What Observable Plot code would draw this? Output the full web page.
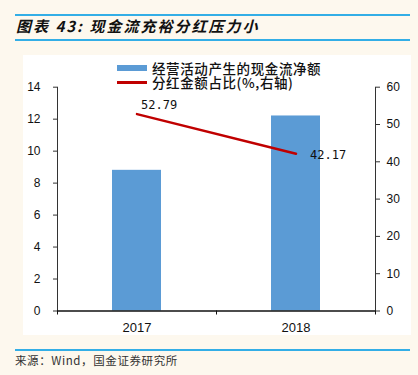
<!DOCTYPE html>
<html>
<head>
<meta charset="utf-8">
<script src="https://cdn.jsdelivr.net/npm/d3@7"></script>
<script src="https://cdn.jsdelivr.net/npm/@observablehq/plot@0.6"></script>
<style>
  html, body { margin: 0; padding: 0; }
  body { width: 418px; height: 375px; background: #fdf8ee; overflow: hidden; }
  #wrap { position: relative; width: 418px; height: 375px; background: #fdf8ee; font-family: "Noto Sans CJK SC", sans-serif; }
  .hl { position: absolute; left: 15px; width: 395px; background: #33aee6; }
  #title { position: absolute; left: 16px; top: 15px; font-size: 15px; font-weight: bold; font-style: italic; letter-spacing: 2px; color: #111; line-height: 22px; white-space: nowrap; }
  #panel { position: absolute; left: 23px; top: 55px; width: 388px; height: 280px; background: #fff; }
  #caption { position: absolute; left: 15px; top: 352px; font-size: 11.5px; color: #333; letter-spacing: 0.6px; line-height: 16px; white-space: nowrap; }
  #legend { position: absolute; left: 152px; top: 61px; font-size: 13.5px; letter-spacing: 0.6px; color: #111; line-height: 14px; white-space: nowrap; font-weight: 500; }
  .sw { position: absolute; }
</style>
</head>
<body>
<div id="wrap">
  <div class="hl" style="top:14px;height:1.5px"></div>
  <div id="title">图表 43: 现金流充裕分红压力小</div>
  <div class="hl" style="top:39px;height:2px"></div>
  <div id="panel"></div>
  <div class="sw" style="left:117px;top:65px;width:30px;height:6px;background:#5b9bd5"></div>
  <div class="sw" style="left:117px;top:81px;width:30px;height:2.5px;background:#c00000"></div>
  <div id="legend"></div>
  <div class="hl" style="top:349px;height:1.5px"></div>
  <div id="caption">来源：Wind，国金证券研究所</div>
</div>
<script>
const years = ["2017", "2018"];
const cashFlow = [8.8, 12.2];
const payoutRatio = [52.79, 42.17];
const leftTicks = [0, 2, 4, 6, 8, 10, 12, 14];
const rightTicks = [0, 10, 20, 30, 40, 50, 60];
const seriesNames = ["经营活动产生的现金流净额", "分红金额占比(%,右轴)"];
const leftMax = 14;
const rightMax = 60;

document.getElementById("legend").innerHTML = seriesNames.join("<br>");

const data = years.map((y, i) => ({year: y, cash: cashFlow[i], ratio: payoutRatio[i]}));
const toLeft = v => v * leftMax / rightMax;

const W = 388, H = 280, mL = 34, mR = 36, mT = 31.7, mB = 24.5;
const step = (W - mL - mR) / years.length;

const chart = Plot.plot({
  width: W,
  height: H,
  marginLeft: mL,
  marginRight: mR,
  marginTop: mT,
  marginBottom: mB,
  style: {background: "transparent", color: "#111", fontFamily: "'Liberation Sans', Arial, sans-serif", fontSize: "12px"},
  x: {type: "band", domain: years, paddingInner: 0.69, paddingOuter: 0.345, axis: null},
  y: {domain: [0, leftMax], axis: null},
  marks: [
    Plot.barY(data, {x: "year", y: "cash", fill: "#5b9bd5"}),
    Plot.line(data, {x: "year", y: d => toLeft(d.ratio), stroke: "#c00000", strokeWidth: 2.5}),
    Plot.text(data.slice(0, 1), {x: "year", y: d => toLeft(d.ratio), text: d => d.ratio.toFixed(2), textAnchor: "start", dx: 4, dy: -9, fontSize: 12, fontFamily: "'DejaVu Sans Mono', monospace", fill: "#111"}),
    Plot.text(data.slice(1), {x: "year", y: d => toLeft(d.ratio), text: d => d.ratio.toFixed(2), textAnchor: "start", dx: 14, dy: 1, fontSize: 12, fontFamily: "'DejaVu Sans Mono', monospace", fill: "#111"}),
    Plot.axisY(leftTicks, {anchor: "left", label: null, tickSize: 4, tickPadding: 13, fontSize: 12, stroke: "#333"}),
    Plot.axisY(rightTicks.map(toLeft), {anchor: "right", label: null, tickSize: 4, tickPadding: 7, fontSize: 12, stroke: "#333", tickFormat: d => String(Math.round(d * rightMax / leftMax))}),
    Plot.axisX({label: null, tickSize: 0, tickPadding: 12, fontSize: 13}),
    Plot.frame({anchor: "left", stroke: "#333"}),
    Plot.frame({anchor: "right", stroke: "#333"}),
    Plot.ruleX(years, {x: d => d, y1: 0, y2: 0, dx: -step / 2, insetBottom: -4, stroke: "#111"}),
    Plot.ruleX(years.slice(-1), {x: d => d, y1: 0, y2: 0, dx: step / 2, insetBottom: -4, stroke: "#111"}),
    Plot.ruleY([0], {stroke: "#111", strokeWidth: 1.3})
  ]
});
document.getElementById("panel").appendChild(chart);
</script>
</body>
</html>
